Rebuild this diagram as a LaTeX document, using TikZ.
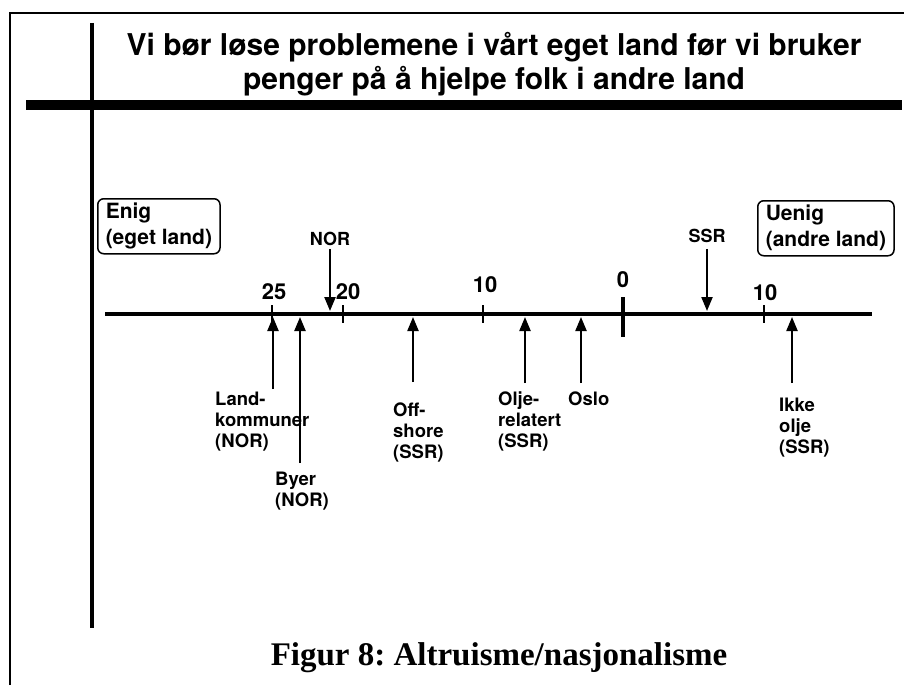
\documentclass[tikz,border=0pt]{standalone}
\usepackage{fontspec}
\setmainfont{TeX Gyre Heros}
\newfontfamily\figurfont{Liberation Serif}
\usetikzlibrary{arrows.meta}
\frenchspacing

\tikzset{
    pil/.style={-{Triangle[length=14pt,width=11pt]},line width=2.2pt},
    merke/.style={font=\bfseries\fontsize{18.5}{21}\selectfont,align=left,anchor=north west,inner sep=0pt},
    tall/.style={font=\bfseries\fontsize{22}{24}\selectfont,inner sep=0pt},
    boks/.style={draw,rounded corners=6pt,line width=1.5pt,align=left,anchor=north west,
        font=\bfseries\fontsize{21}{26}\selectfont,inner xsep=8pt,minimum height=55pt},
}

\begin{document}
\begin{tikzpicture}[x=1pt,y=-1pt]
        \useasboundingbox (0,0) rectangle (904,685);

        %Ramme
        \draw[line width=1.5pt] (10,685) -- (10,13) -- (904,13);
        \draw[line width=10pt] (26,105) -- (902,105);
        \draw[line width=4pt] (92,23) -- (92,628);

        %Tittel
        \node (tittel) [align=center,anchor=north,inner sep=0pt,font=\bfseries\fontsize{30}{34}\selectfont]
            at (494,32) {Vi bør løse problemene i vårt eget land før vi bruker\\penger på å hjelpe folk i andre land};

        %Akse
        \coordinate (v) at (105,314);
        \coordinate (h) at (872,314);
        \draw[line width=4pt] (v) -- (h);
        \coordinate (over) at (0,311);
        \coordinate (under) at (0,317);

        \foreach \x in {272,343,483,764}
            \draw[line width=1.2pt] (\x,305) -- (\x,323);
        \draw[line width=4pt] (623,297) -- (623,337);

        \node (t25) [tall] at (274,292) {25};
        \node (t20) [tall] at (348,292) {20};
        \node (t10v) [tall] at (485,285) {10};
        \node (t0) [tall] at (623,280) {0};
        \node (t10h) [tall] at (765,293) {10};

        %Endepunkter
        \node (enig) [boks] at (97,198) {Enig\\(eget land)};
        \node (uenig) [boks] at (757,200) {Uenig\\(andre land)};

        %Ovenfra
        \node (nor) [tall,font=\bfseries\fontsize{18}{20}\selectfont] at (330,239) {NOR};
        \node (ssr) [tall,font=\bfseries\fontsize{18}{20}\selectfont] at (707,236) {SSR};
        \draw[pil] (nor.south) ++(0,3) -- (nor |- over);
        \draw[pil] (ssr.south) ++(0,6) -- (ssr |- over);

        %Nedenfra
        \node (land) [merke] at (215,392) {Land-\\kommuner\\(NOR)};
        \node (byer) [merke] at (275,472) {Byer\\(NOR)};
        \node (off) [merke] at (393,403) {Off-\\shore\\(SSR)};
        \node (olje) [merke] at (498,392) {Olje-\\relatert\\(SSR)};
        \node (oslo) [merke] at (568,392) {Oslo};
        \node (ikke) [merke] at (779,398) {Ikke\\olje\\(SSR)};

        \coordinate (hLand) at (273,389);
        \coordinate (hByer) at (300,463);
        \coordinate (hOff) at (413,382);
        \coordinate (hOlje) at (525,383);
        \coordinate (hOslo) at (581,383);
        \coordinate (hIkke) at (792,383);
        \foreach \p in {hLand,hByer,hOff,hOlje,hOslo,hIkke}
            \draw[pil] (\p) -- (\p |- under);

        %Figurtekst
        \node (figur) [anchor=base,inner sep=0pt,font=\figurfont\bfseries\fontsize{33}{36}\selectfont]
            at (499,665) {Figur 8: Altruisme/nasjonalisme};
    \end{tikzpicture}
\end{document}
